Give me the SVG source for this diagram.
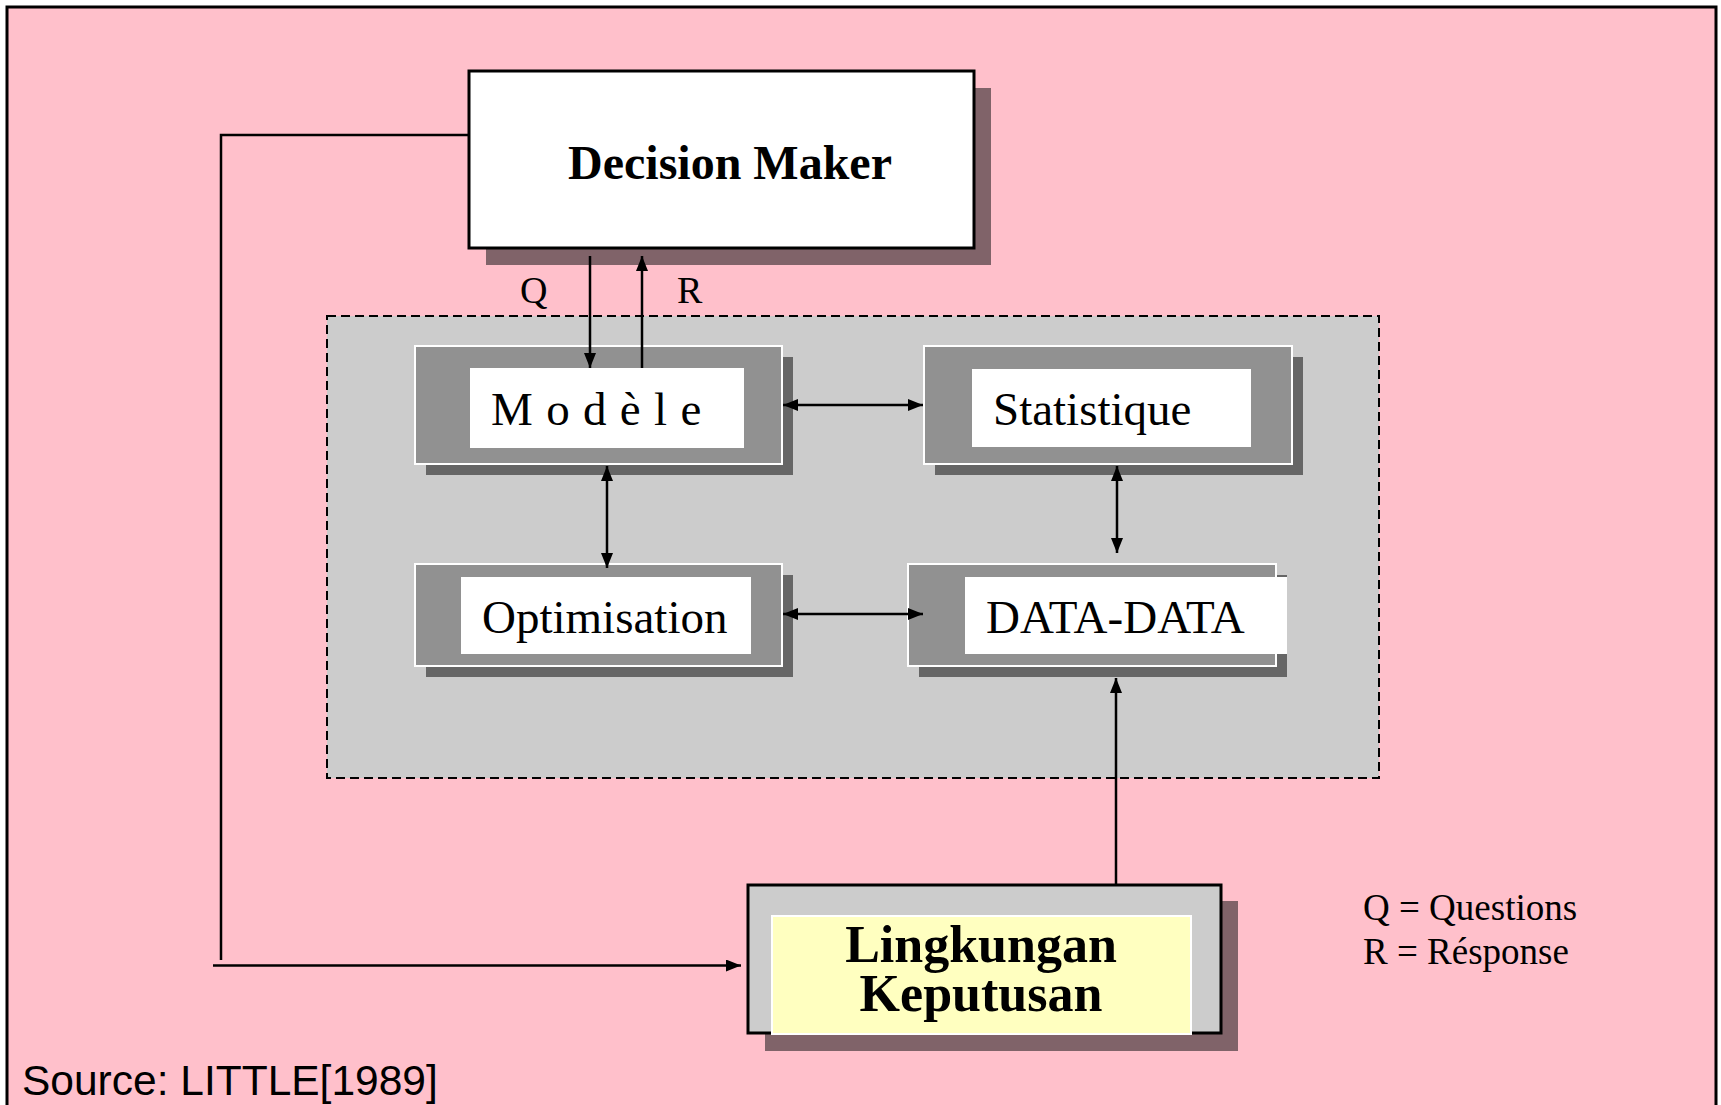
<svg xmlns="http://www.w3.org/2000/svg" width="1721" height="1105" viewBox="0 0 1721 1105">
  <style>
    .serif { font-family: "Liberation Serif", "Times New Roman", serif; fill: #000; }
    .bold { font-weight: bold; }
    .box { fill: #919191; stroke: #ffffff; stroke-width: 2; }
    .shade { fill: #666666; }
    .inner { fill: #ffffff; }
    .wire { stroke: #000; stroke-width: 2.5; fill: none; }
  </style>
  <defs>
    <marker id="arrow" viewBox="0 0 15 12" refX="15" refY="6" markerWidth="15" markerHeight="12" markerUnits="userSpaceOnUse" orient="auto-start-reverse">
      <path d="M0,0 L15,6 L0,12 z" fill="#000"/>
    </marker>
  </defs>

  <!-- page background and frame -->
  <rect x="0" y="0" width="1721" height="1105" fill="#ffffff"/>
  <rect x="7" y="7" width="1709" height="1115" fill="#ffc0cb" stroke="#000" stroke-width="3"/>

  <!-- dashed support-system area -->
  <rect id="system-area" x="327" y="316" width="1052" height="462" fill="#cccccc" stroke="#000" stroke-width="2" stroke-dasharray="9 5"/>

  <g id="decision-maker">
    <rect x="486" y="88" width="505" height="177" fill="#806369"/>
    <rect x="469" y="71" width="505" height="177" fill="#ffffff" stroke="#000" stroke-width="3"/>
    <text class="serif bold" x="730" y="179" font-size="48" text-anchor="middle">Decision Maker</text>
  </g>

  <g id="modele">
    <rect class="shade" x="426" y="357" width="367" height="118"/>
    <rect class="box" x="415" y="346" width="367" height="118"/>
    <rect class="inner" x="470" y="368" width="274" height="80"/>
    <text class="serif" x="491" y="425" font-size="47" letter-spacing="0.8">M o d è l e</text>
  </g>

  <g id="statistique">
    <rect class="shade" x="935" y="357" width="368" height="118"/>
    <rect class="box" x="924" y="346" width="368" height="118"/>
    <rect class="inner" x="972" y="369" width="279" height="78"/>
    <text class="serif" x="993" y="425" font-size="47">Statistique</text>
  </g>

  <g id="optimisation">
    <rect class="shade" x="426" y="575" width="367" height="102"/>
    <rect class="box" x="415" y="564" width="367" height="102"/>
    <rect class="inner" x="461" y="577" width="290" height="77"/>
    <text class="serif" x="482" y="633" font-size="47">Optimisation</text>
  </g>

  <g id="data-data">
    <rect class="shade" x="919" y="575" width="368" height="102"/>
    <rect class="box" x="908" y="564" width="368" height="102"/>
    <rect class="inner" x="965" y="577" width="322" height="77"/>
    <text class="serif" x="986" y="633" font-size="47">DATA-DATA</text>
  </g>

  <g id="lingkungan-keputusan">
    <rect x="765" y="901" width="473" height="150" fill="#806369"/>
    <rect x="748" y="885" width="473" height="148" fill="#cccccc" stroke="#000" stroke-width="3"/>
    <rect x="772" y="916" width="419" height="118" fill="#ffffc0" stroke="#ffffff" stroke-width="2"/>
    <text class="serif bold" font-size="52" text-anchor="middle"><tspan x="981" y="962">Lingkungan</tspan><tspan x="981" y="1011">Keputusan</tspan></text>
  </g>

  <g id="connectors">
    <line class="wire" x1="590" y1="256" x2="590" y2="368" marker-end="url(#arrow)"/>
    <line class="wire" x1="642" y1="368" x2="642" y2="256" marker-end="url(#arrow)"/>
    <line class="wire" x1="783" y1="405" x2="923" y2="405" marker-start="url(#arrow)" marker-end="url(#arrow)"/>
    <line class="wire" x1="783" y1="614" x2="923" y2="614" marker-start="url(#arrow)" marker-end="url(#arrow)"/>
    <line class="wire" x1="607" y1="466" x2="607" y2="568" marker-start="url(#arrow)" marker-end="url(#arrow)"/>
    <line class="wire" x1="1117" y1="466" x2="1117" y2="553" marker-start="url(#arrow)" marker-end="url(#arrow)"/>
    <line class="wire" x1="1116" y1="885" x2="1116" y2="678" marker-end="url(#arrow)"/>
    <polyline class="wire" points="469,135 221,135 221,960"/>
    <line class="wire" x1="213" y1="965.5" x2="741" y2="965.5" marker-end="url(#arrow)"/>
  </g>

  <!-- labels -->
  <text class="serif" x="520" y="303" font-size="38">Q</text>
  <text class="serif" x="677" y="303" font-size="38">R</text>
  <text class="serif" x="1363" y="920" font-size="37">Q = Questions</text>
  <text class="serif" x="1363" y="964" font-size="37">R = Résponse</text>
  <text x="22" y="1095" font-family="'Liberation Sans', Arial, sans-serif" font-size="42.5" fill="#000">Source: LITTLE[1989]</text>
</svg>
